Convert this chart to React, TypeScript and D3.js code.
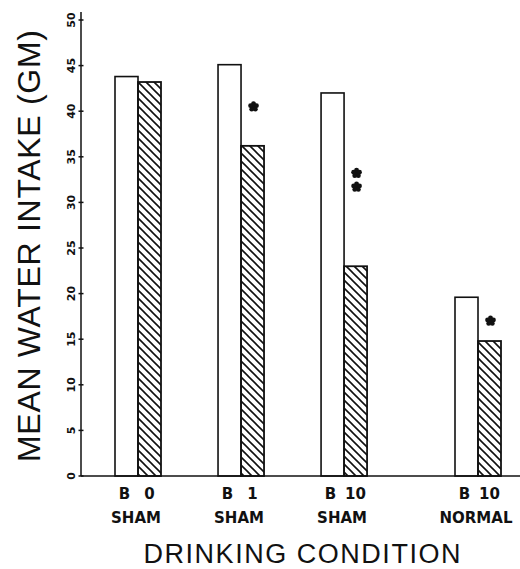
import * as d3 from "d3";

// mean water intake per drinking condition: baseline (B) vs treatment (hatched)
const doses = ["0", "1", "10", "10"];
const groups = ["SHAM", "SHAM", "SHAM", "NORMAL"];
const slots = [0, 1, 2, 3.3];
const baseline = [43.8, 45.1, 42.0, 19.6];
const treatment = [43.2, 36.2, 23.0, 14.8];
const stars: number[][] = [[], [40.5], [33.2, 31.7], [17.0]];
const yTicks = [0, 5, 10, 15, 20, 25, 30, 35, 40, 45, 50];

const W = 520, H = 569;
const barW = 23;
const ink = "#111";

function Star({ cx, cy }: { cx: number; cy: number }) {
  const lobes = d3.range(5).map((i) => {
    const a = -Math.PI / 2 + (i * 2 * Math.PI) / 5;
    return [cx + 3.1 * Math.cos(a), cy + 3.1 * Math.sin(a)];
  });
  return (
    <g fill={ink}>
      <circle cx={cx} cy={cy} r={3.2} />
      {lobes.map(([x, y], i) => <circle key={i} cx={x} cy={y} r={2.4} />)}
    </g>
  );
}

export default function App() {
  const x = d3.scaleLinear().domain([0, 3.3]).range([138, 478]);
  const y = d3.scaleLinear().domain([0, 50]).range([476, 20]);
  const axisX = 81;

  return (
    <svg width={W} height={H} style={{ position: "absolute", left: 0, top: 0, display: "block", background: "#fff" }}>
      <defs>
        <pattern id="hatch" width={8} height={8} patternUnits="userSpaceOnUse">
          <path d="M-2,-2 L10,10 M-2,6 L2,10 M6,-2 L10,2" stroke={ink} strokeWidth={1.6} />
        </pattern>
      </defs>

      {/* bars */}
      {slots.map((s, i) => (
        <g key={i}>
          <rect x={x(s) - barW} y={y(baseline[i])} width={barW} height={y(0) - y(baseline[i])}
            fill="#fff" stroke={ink} strokeWidth={1.6} />
          <rect x={x(s)} y={y(treatment[i])} width={barW} height={y(0) - y(treatment[i])}
            fill="url(#hatch)" stroke={ink} strokeWidth={1.8} />
          {stars[i].map((v, j) => <Star key={j} cx={x(s) + barW / 2 + 1} cy={y(v)} />)}
        </g>
      ))}

      {/* axes */}
      <line x1={axisX} x2={axisX} y1={y(0)} y2={y(50) - 8} stroke={ink} strokeWidth={1.5} />
      <line x1={axisX} x2={W} y1={y(0)} y2={y(0)} stroke={ink} strokeWidth={1.5} />
      {yTicks.map((t) => (
        <g key={t}>
          <line x1={axisX - 2.5} x2={axisX + 2.5} y1={y(t)} y2={y(t)} stroke={ink} strokeWidth={1.5} />
          <text transform={`translate(75,${y(t)}) rotate(-90)`} textAnchor="middle"
            fontFamily="DejaVu Sans" fontWeight="bold" fontSize={11} fill={ink}>{t}</text>
        </g>
      ))}

      {/* category labels */}
      {slots.map((s, i) => (
        <g key={i} fontFamily="DejaVu Sans" fontWeight="bold" fill={ink}>
          <text x={x(s) - barW / 2 - 2} y={499} textAnchor="middle" fontSize={15}>B</text>
          <text x={x(s) + barW / 2} y={499} textAnchor="middle" fontSize={15}>{doses[i]}</text>
          <text x={x(s) - 2} y={523} textAnchor="middle" fontSize={15}>{groups[i]}</text>
        </g>
      ))}

      {/* axis titles */}
      <text x={302} y={563} textAnchor="middle" fontFamily="Liberation Sans" fontSize={27}
        textLength={317} lengthAdjust="spacing" fill={ink}>DRINKING CONDITION</text>
      <text transform="translate(40,246) rotate(-90)" textAnchor="middle" fontFamily="Liberation Sans"
        fontSize={32} textLength={432} lengthAdjust="spacing" fill={ink}>MEAN WATER INTAKE (GM)</text>
    </svg>
  );
}
